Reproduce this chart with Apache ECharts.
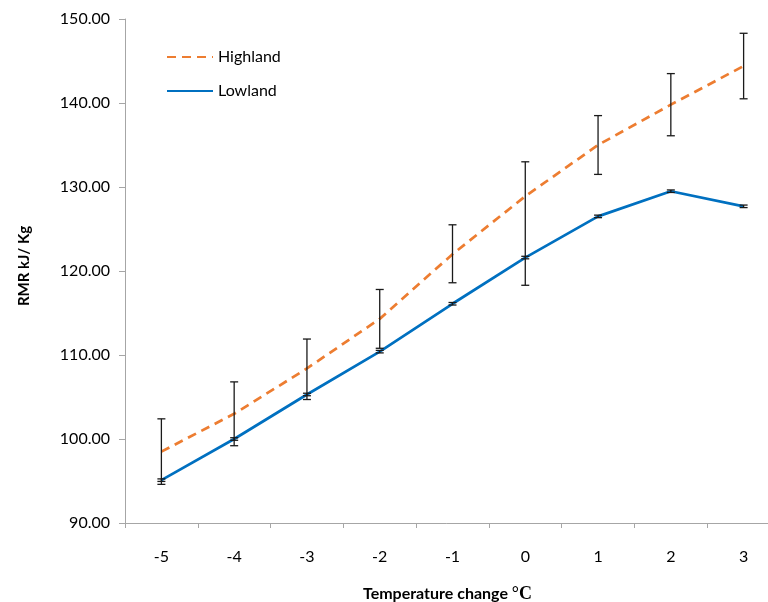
<!DOCTYPE html>
<html>
<head>
<meta charset="utf-8">
<script src="https://cdn.jsdelivr.net/npm/echarts@6/dist/echarts.min.js"></script>
<style>
  html, body { margin: 0; padding: 0; background: #fff; }
  #chart { width: 768px; height: 602px; }
</style>
</head>
<body>
<div id="chart"></div>
<script>
// data
const categories = ["-5", "-4", "-3", "-2", "-1", "0", "1", "2", "3"];
const highlandMean = [98.5, 103.0, 108.4, 114.3, 122.0, 128.9, 135.0, 139.8, 144.4];
const highlandUpper = [102.4, 106.8, 111.9, 117.8, 125.5, 133.0, 138.5, 143.5, 148.3];
const highlandLower = [94.6, 99.2, 104.7, 110.8, 118.6, 118.3, 131.5, 136.1, 140.5];
const lowlandMean = [95.1, 100.0, 105.3, 110.4, 116.1, 121.6, 126.5, 129.5, 127.7];
const lowlandErr = [0.15, 0.15, 0.15, 0.15, 0.15, 0.15, 0.15, 0.15, 0.15];
const yTicks = { min: 90, max: 150, interval: 10 };

const font = "Lato, 'Open Sans', sans-serif";
const axisGray = "#a6a6a6";

function errorData(lows, highs) {
  return categories.map((c, i) => [i, lows[i], highs[i]]);
}

function renderErrorBar(params, api) {
  const x = api.value(0);
  const lo = api.coord([x, api.value(1)]);
  const hi = api.coord([x, api.value(2)]);
  const half = 4;
  const style = { stroke: "#1a1a1a", lineWidth: 1.3 };
  return {
    type: "group",
    children: [
      { type: "line", shape: { x1: hi[0], y1: hi[1], x2: lo[0], y2: lo[1] }, style: style },
      { type: "line", shape: { x1: hi[0] - half, y1: hi[1], x2: hi[0] + half, y2: hi[1] }, style: style },
      { type: "line", shape: { x1: lo[0] - half, y1: lo[1], x2: lo[0] + half, y2: lo[1] }, style: style },
    ],
  };
}

const chart = echarts.init(document.getElementById("chart"));

chart.setOption({
  animation: false,
  textStyle: { fontFamily: font },
  grid: { left: 125, right: -12, top: 19, bottom: 79, containLabel: false, outerBoundsMode: "none" },
  legend: {
    orient: "vertical",
    left: 161,
    top: 44,
    itemWidth: 46,
    itemHeight: 14,
    itemGap: 18,
    data: ["Highland", "Lowland"],
    itemStyle: { opacity: 0 },
    textStyle: { fontSize: 16, color: "#000", fontFamily: font },
  },
  xAxis: {
    type: "category",
    data: categories,
    boundaryGap: true,
    axisLine: { lineStyle: { color: axisGray, width: 1 } },
    axisTick: { show: true, length: 5, lineStyle: { color: axisGray } },
    axisLabel: { color: "#000", fontSize: 16, margin: 26, fontFamily: font },
    name: "Temperature change {s|°C}",
    nameLocation: "middle",
    nameGap: 62,
    nameTextStyle: {
      fontSize: 16,
      fontWeight: "bold",
      color: "#000",
      fontFamily: font,
      padding: [0, 10, 0, 0],
      rich: {
        s: { fontFamily: "'Liberation Serif', serif", fontSize: 18, fontWeight: "bold", color: "#000" },
      },
    },
  },
  yAxis: {
    type: "value",
    min: yTicks.min,
    max: yTicks.max,
    interval: yTicks.interval,
    axisLine: { show: true, lineStyle: { color: axisGray, width: 1 } },
    axisTick: { show: true, length: 6, lineStyle: { color: axisGray } },
    splitLine: { show: false },
    axisLabel: {
      color: "#000",
      fontSize: 16,
      margin: 15,
      fontFamily: font,
      formatter: (v) => v.toFixed(2),
    },
    name: "RMR kJ/ Kg",
    nameLocation: "middle",
    nameGap: 93,
    nameTextStyle: {
      fontSize: 15,
      fontWeight: "bold",
      color: "#000",
      fontFamily: font,
      padding: [0, 0, 0, 10],
    },
  },
  series: [
    {
      name: "Highland",
      type: "line",
      data: highlandMean,
      symbol: "none",
      color: "#ed7d31",
      lineStyle: { color: "#ed7d31", width: 2.7, type: [9, 6] },
      z: 2,
    },
    {
      name: "Lowland",
      type: "line",
      data: lowlandMean,
      symbol: "none",
      color: "#0070c0",
      lineStyle: { color: "#0070c0", width: 2.7 },
      z: 2,
    },
    {
      name: "Highland error",
      type: "custom",
      renderItem: renderErrorBar,
      data: errorData(highlandLower, highlandUpper),
      encode: { x: 0, y: [1, 2] },
      z: 3,
    },
    {
      name: "Lowland error",
      type: "custom",
      renderItem: renderErrorBar,
      data: errorData(
        lowlandMean.map((v, i) => v - lowlandErr[i]),
        lowlandMean.map((v, i) => v + lowlandErr[i])
      ),
      encode: { x: 0, y: [1, 2] },
      z: 3,
    },
  ],
});
</script>
</body>
</html>
